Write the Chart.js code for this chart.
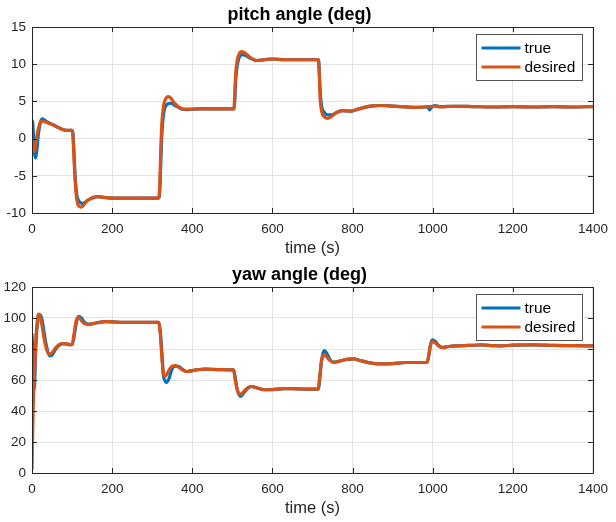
<!DOCTYPE html>
<html><head><meta charset="utf-8">
<script src="https://cdn.jsdelivr.net/npm/chart.js@4/dist/chart.umd.min.js"></script>
<style>
html,body{margin:0;padding:0;background:#fff;width:616px;height:522px;overflow:hidden}
canvas{position:absolute;left:0}
#c1{top:0}
#c2{top:260px}
</style></head><body>
<canvas id="c1" width="616" height="262"></canvas>
<canvas id="c2" width="616" height="262"></canvas>
<script>
// ---- data ----
const seriesLabels = ['true', 'desired'];
const xTicksStep = 200;

const pitchTime = [0,1,3,5,7,9,12,16,21,26,35,45,55,65,75,85,99,102,105,108,112,117,122,128,135,145,155,165,180,200,250,300,316,319,321,324,328,333,340,347,355,365,375,390,420,480,504,506,508,512,518,524,532,545,560,580,600,630,700,715,717,719,723,730,738,748,760,775,795,810,830,850,870,890,920,950,980,988,992,997,1005,1020,1050,1100,1150,1200,1250,1300,1350,1400];
const pitchDesired = [0,-0.3,-1.2,-1.75,-1.5,-0.8,0.3,1.4,2.15,2.35,2.2,2.0,1.8,1.5,1.25,1.1,1.1,0.4,-3.0,-6.0,-8.3,-9.1,-9.2,-9.0,-8.5,-8.1,-7.85,-7.8,-7.9,-8.0,-8.0,-8.0,-8.0,-6.0,-2.0,2.0,4.3,5.3,5.65,5.4,4.8,4.3,4.0,3.95,4.0,4.0,4.0,6.0,8.5,10.5,11.5,11.7,11.5,10.9,10.5,10.6,10.7,10.6,10.6,10.6,8.5,5.5,3.6,2.9,2.7,3.0,3.5,3.75,3.7,3.9,4.2,4.4,4.45,4.4,4.3,4.2,4.25,4.3,4.3,4.3,4.35,4.25,4.35,4.3,4.25,4.3,4.25,4.3,4.25,4.3];
const pitchTrue = [0,2.4,1.0,-1.0,-2.2,-2.6,-1.6,0.6,2.2,2.65,2.35,2.05,1.8,1.5,1.25,1.1,1.1,0.8,-2.0,-5.3,-7.6,-8.4,-8.65,-8.7,-8.45,-8.1,-7.9,-7.8,-7.9,-8.0,-8.0,-8.0,-8.0,-7.0,-4.0,0.5,3.2,4.3,4.7,4.75,4.5,4.2,3.95,3.9,4.0,4.0,4.0,5.0,7.5,9.8,11.0,11.3,11.2,10.8,10.5,10.6,10.7,10.6,10.6,10.6,9.0,6.5,4.3,3.5,3.2,3.2,3.5,3.75,3.7,3.9,4.2,4.4,4.45,4.4,4.3,4.2,4.25,4.3,3.85,4.2,4.45,4.3,4.35,4.3,4.25,4.3,4.25,4.3,4.25,4.3];

const yawTime = [0,3,6,9,12,16,20,25,30,36,44,50,58,68,80,95,100,105,110,116,123,130,141,160,184,220,280,316,320,324,328,332,336,342,348,355,365,375,386,410,431,470,503,507,512,517,521,528,538,548,560,579,600,628,660,686,714,718,722,726,730,735,742,752,765,785,802,820,840,867,900,933,986,990,994,999,1006,1015,1024,1040,1057,1090,1123,1150,1173,1200,1250,1300,1350,1400];
const yawDesired = [2,42,62,83,95,102.5,101,95,87,80,76.5,77.5,80.5,83,83.5,82.8,82.8,90,98,100.5,98.5,96.5,95.8,96.8,97.7,97.2,97.2,97.2,90,75,64,62.3,63.5,66.5,68.5,69.3,68.5,66.5,65.5,66.5,67,66.7,66.5,60,54,51,50.9,52.5,55,55.8,55,53.7,53.8,54.5,54.3,54.1,54.1,62,72,75.5,76.2,75,73,71.3,72,73.3,73.6,72.5,71.2,70.4,70.6,71.3,71.3,76,82,84.8,84,81.8,80.9,81.6,82,82.3,82.6,82.2,82,82.5,82.6,82.3,82.2,82];
const yawTrue = [90,72,55,78,92,100,102,99,91,82,75.5,76,79.5,82.5,83.5,82.8,82.8,88,96,101,100,97.5,96,96.8,97.7,97.2,97.2,97.2,92,78,63,59.5,58.4,61,66,69,68.8,67,65.5,66.5,67,66.7,66.5,62,54,50.5,49.4,51.5,54.5,55.8,55,53.7,53.8,54.5,54.3,54.1,54.1,60,71,77,79,77.5,74,71.5,72,73.3,73.6,72.5,71.2,70.4,70.6,71.3,71.3,75,82,85.9,85,82.3,81,81.6,82,82.3,82.6,82.2,82,82.5,82.6,82.3,82.2,82];

// ---- style ----
const FONT = "'Liberation Sans', Arial, Helvetica, sans-serif";
const AX = '#262626';
const BLUE = '#0072BD';
const ORANGE = '#D95319';

const boxPlugin = {
  id: 'box',
  afterDatasetsDraw(chart) {
    const {ctx, chartArea: a, scales} = chart;
    ctx.save();
    ctx.strokeStyle = AX;
    ctx.lineWidth = 1;
    ctx.beginPath();
    ctx.rect(Math.round(a.left) + 0.5, Math.round(a.top) + 0.5, Math.round(a.right - a.left), Math.round(a.bottom - a.top));
    ctx.stroke();
    const tl = 5;
    ctx.beginPath();
    scales.x.ticks.forEach(t => {
      const px = Math.round(scales.x.getPixelForValue(t.value)) + 0.5;
      ctx.moveTo(px, a.bottom); ctx.lineTo(px, a.bottom - tl);
      ctx.moveTo(px, a.top); ctx.lineTo(px, a.top + tl);
    });
    scales.y.ticks.forEach(t => {
      const py = Math.round(scales.y.getPixelForValue(t.value)) + 0.5;
      ctx.moveTo(a.left, py); ctx.lineTo(a.left + tl, py);
      ctx.moveTo(a.right, py); ctx.lineTo(a.right - tl, py);
    });
    ctx.stroke();
    ctx.restore();
  },
  afterDraw(chart) {
    const {ctx, chartArea: a} = chart;
    const bx = Math.round(a.right) - 116.5, by = Math.round(a.top) + 7.5, bw = 106, bh = 46;
    ctx.save();
    ctx.fillStyle = '#fff';
    ctx.fillRect(bx, by, bw, bh);
    ctx.strokeStyle = '#555';
    ctx.lineWidth = 1;
    ctx.strokeRect(bx, by, bw, bh);
    const items = [chart.data.datasets.find(d => d.label === 'true'), chart.data.datasets.find(d => d.label === 'desired')];
    ctx.font = '15.5px ' + FONT;
    ctx.textBaseline = 'middle';
    ctx.textAlign = 'left';
    items.forEach((d, i) => {
      const y = by + 13.5 + i * 19;
      ctx.strokeStyle = d.borderColor;
      ctx.lineWidth = 3;
      ctx.beginPath();
      ctx.moveTo(bx + 5, y); ctx.lineTo(bx + 44, y);
      ctx.stroke();
      ctx.fillStyle = '#000';
      ctx.fillText(d.label, bx + 48, y + 1);
    });
    ctx.restore();
  }
};

function makeChart(id, title, time, trueVals, desiredVals, yMin, yMax, yStep) {
  const canvas = document.getElementById(id);
  const H = canvas.height;
  const toXY = arr => arr.map((v, i) => ({x: time[i], y: v}));
  return new Chart(canvas, {
    type: 'line',
    data: {
      datasets: [
        {label: seriesLabels[0], data: toXY(trueVals), borderColor: BLUE, borderWidth: 3.2, pointRadius: 0, cubicInterpolationMode: 'monotone', order: 1},
        {label: seriesLabels[1], data: toXY(desiredVals), borderColor: ORANGE, borderWidth: 3.2, pointRadius: 0, cubicInterpolationMode: 'monotone', order: 0}
      ]
    },
    options: {
      responsive: false,
      animation: false,
      devicePixelRatio: 1,
      layout: {padding: {left: 0, right: 17, top: 0, bottom: 0}},
      plugins: {
        legend: {display: false},
        tooltip: {enabled: false},
        title: {display: true, text: title, color: '#000', font: {family: FONT, size: 18, weight: 'bold', lineHeight: 1.2}, padding: {top: 4, bottom: 1.4}}
      },
      scales: {
        x: {
          type: 'linear', min: 0, max: 1400,
          ticks: {stepSize: xTicksStep, color: AX, font: {family: FONT, size: 13.5}, padding: 8, maxRotation: 0, format: {useGrouping: false}},
          grid: {color: '#e3e3e3', drawTicks: false},
          border: {color: AX},
          title: {display: true, text: 'time (s)', color: AX, font: {family: FONT, size: 16.5, lineHeight: 1.2}, padding: {top: 0, bottom: 4}},
          afterFit(s) { s.height = H - 213; }
        },
        y: {
          min: yMin, max: yMax,
          ticks: {stepSize: yStep, color: AX, font: {family: FONT, size: 13.5}, padding: 6},
          grid: {color: '#e3e3e3', drawTicks: false},
          border: {color: AX},
          afterFit(s) { s.width = 32; }
        }
      }
    },
    plugins: [boxPlugin]
  });
}

makeChart('c1', 'pitch angle (deg)', pitchTime, pitchTrue, pitchDesired, -10, 15, 5);
makeChart('c2', 'yaw angle (deg)', yawTime, yawTrue, yawDesired, 0, 120, 20);
</script>
</body></html>
